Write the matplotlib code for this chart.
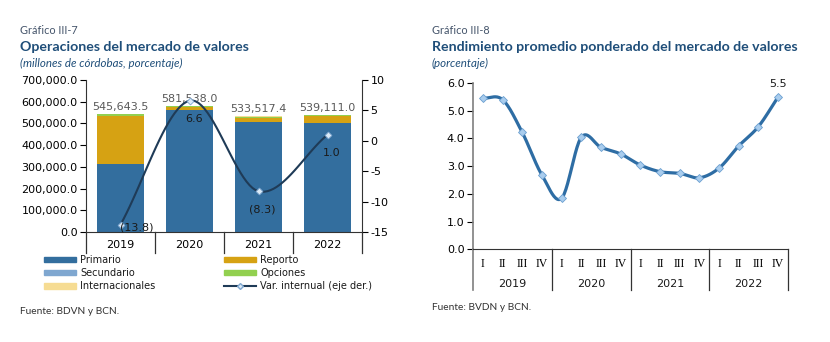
import numpy as np
import matplotlib
matplotlib.use('Agg')
import matplotlib.pyplot as plt
from matplotlib.lines import Line2D
from matplotlib.patches import Patch

# Gráfico III-7
years = ['2019', '2020', '2021', '2022']
primario = [311000.0, 560000.0, 505000.0, 500000.0]
secundario = [1500.0, 1200.0, 1000.0, 1000.0]
reporto = [224000.0, 14000.0, 19000.0, 31000.0]
opciones = [6500.0, 5000.0, 6500.0, 5000.0]
totales = [545643.5, 581538.0, 533517.4, 539111.0]
var_interanual = [-13.8, 6.6, -8.3, 1.0]

# Gráfico III-8
quarters = ['I', 'II', 'III', 'IV'] * 4
rendimiento = [5.45, 5.40, 4.22, 2.68,
               1.84, 4.04, 3.68, 3.44,
               3.04, 2.80, 2.74, 2.58,
               2.93, 3.73, 4.43, 5.50]

C_PRIM = '#336e9e'
C_SEC = '#7fa7d0'
C_REP = '#d6a213'
C_OPC = '#92d050'
C_INT = '#f6dc93'
C_LINE = '#1f3b57'
C_TITLE = '#1f4e79'
C_CURVE = '#2e6da4'
C_MARK = '#a9cdee'


def smooth(x, y, n=24):
    """Catmull-Rom curve through the points (like Excel smoothed lines)."""
    x = np.asarray(x, float)
    y = np.asarray(y, float)
    px = np.concatenate([[2 * x[0] - x[1]], x, [2 * x[-1] - x[-2]]])
    py = np.concatenate([[2 * y[0] - y[1]], y, [2 * y[-1] - y[-2]]])
    t = np.linspace(0, 1, n)
    xs, ys = [], []
    for i in range(1, len(px) - 2):
        for p, out in ((px, xs), (py, ys)):
            p0, p1, p2, p3 = p[i - 1], p[i], p[i + 1], p[i + 2]
            out.extend(0.5 * (2 * p1 + (-p0 + p2) * t
                              + (2 * p0 - 5 * p1 + 4 * p2 - p3) * t ** 2
                              + (-p0 + 3 * p1 - 3 * p2 + p3) * t ** 3))
    return np.array(xs), np.array(ys)


def headers(fig, x, num, title, sub):
    fig.text(x, 1 - 31 / 342, num, fontsize=7.8, color='#44546a',
             family='Lato', va='center')
    fig.text(x, 1 - 47 / 342, title, fontsize=10.2, color=C_TITLE,
             family='Lato', weight='bold', va='center')
    fig.text(x, 1 - 63 / 342, sub, fontsize=8.3, color=C_TITLE,
             family='Lato', style='italic', va='center')


def left_chart(fig):
    ax = fig.add_axes([86 / 830, 1 - 232 / 342, 276 / 830, 152 / 342])
    x = np.arange(len(years))
    w = 0.67
    bottom = np.zeros(len(years))
    for vals, col in ((primario, C_PRIM), (secundario, C_SEC),
                      (reporto, C_REP), (opciones, C_OPC)):
        ax.bar(x, vals, w, bottom=bottom, color=col, edgecolor='none')
        bottom += np.array(vals)
    inter = np.array(totales) - bottom
    ax.bar(x, inter, w, bottom=bottom, color=C_INT, edgecolor='none')

    for i, t in enumerate(totales):
        ax.text(i, t + 9000, '{:,.1f}'.format(t), ha='center', va='bottom',
                fontsize=8, color='#595959')

    ax.set_xlim(-0.5, 3.5)
    ax.set_ylim(0, 700000)
    ax.set_yticks(np.arange(0, 700001, 100000))
    ax.set_yticklabels(['{:,.1f}'.format(v) for v in ax.get_yticks()])
    ax.set_xticks(x)
    ax.set_xticklabels(years)
    ax.tick_params(axis='x', length=0, pad=6, labelsize=8)
    ax.tick_params(axis='y', direction='out', length=4, labelsize=8,
                   pad=2)
    ax.spines['top'].set_visible(False)
    ax.spines['right'].set_visible(False)
    for s in ('left', 'bottom'):
        ax.spines[s].set_color('#333333')
    for b in np.arange(-0.5, 4, 1.0):
        ax.plot([b, b], [0, -21 / 152], color='#333333', lw=0.9,
                transform=ax.get_xaxis_transform(), clip_on=False)

    ax2 = ax.twinx()
    ax2.set_ylim(-15, 10)
    ax2.set_yticks(np.arange(-15, 11, 5))
    ax2.tick_params(axis='y', direction='out', length=4, labelsize=8,
                    pad=2)
    for s in ('top', 'left', 'bottom'):
        ax2.spines[s].set_visible(False)
    ax2.spines['right'].set_color('#333333')
    sx, sy = smooth(x, var_interanual)
    ax2.plot(sx, sy, color=C_LINE, lw=1.5)
    ax2.plot(x, var_interanual, ls='none', marker='D', ms=3.5,
             mfc='#dbeaf7', mec='#7fa7d0', mew=0.6)
    offs = [(0.23, -0.4), (0.06, -3.0), (0.06, -3.0), (0.06, -3.0)]
    for i, v in enumerate(var_interanual):
        lab = '({:.1f})'.format(-v) if v < 0 else '{:.1f}'.format(v)
        ax2.text(i + offs[i][0], v + offs[i][1], lab, ha='center',
                 va='center', fontsize=8, color='#1a1a1a')

    handles = [Patch(color=C_PRIM), Patch(color=C_SEC), Patch(color=C_INT),
               Patch(color=C_REP), Patch(color=C_OPC),
               Line2D([], [], color=C_LINE, lw=1.5, marker='D', ms=3,
                      mfc='#dbeaf7', mec='#7fa7d0')]
    labels = ['Primario', 'Secundario', 'Internacionales', 'Reporto',
              'Opciones', 'Var. internual (eje der.)']
    leg = fig.legend(handles, labels, ncol=2, mode='expand',
                     bbox_to_anchor=(44 / 830, 1 - 255 / 342, 328 / 830,
                                     0.001),
                     loc='upper left', frameon=False, fontsize=7,
                     handlelength=3.3, handleheight=0.45, handletextpad=0.4,
                     labelspacing=0.35, borderpad=0, borderaxespad=0)
    for t in leg.get_texts():
        t.set_color('#1a1a1a')

    fig.text(20 / 830, 1 - 312 / 342, 'Fuente: BDVN y BCN.', fontsize=7.3,
             family='Lato', color='#333333', va='center')


def right_chart(fig):
    ax = fig.add_axes([473 / 830, 1 - 249.3 / 342, 315 / 830, 166.3 / 342])
    x = np.arange(len(rendimiento))
    sx, sy = smooth(x, rendimiento)
    ax.plot(sx, sy, color=C_CURVE, lw=2.3, solid_capstyle='round')
    ax.plot(x, rendimiento, ls='none', marker='D', ms=4, mfc=C_MARK,
            mec='#6b9fd0', mew=0.6)
    ax.text(x[-1], rendimiento[-1] + 0.28, '{:.1f}'.format(rendimiento[-1]),
            ha='center', va='bottom', fontsize=8, color='#1a1a1a')

    ax.set_xlim(-0.5, 15.5)
    ax.set_ylim(0, 6)
    ax.set_yticks(np.arange(0, 6.1, 1.0))
    ax.set_yticklabels(['{:.1f}'.format(v) for v in ax.get_yticks()])
    ax.tick_params(axis='y', direction='out', length=4, labelsize=8,
                   pad=2)
    ax.set_xticks(x)
    ax.set_xticklabels(quarters, family='Liberation Serif', fontsize=8.5)
    ax.tick_params(axis='x', length=0, pad=6)
    ax.spines['top'].set_visible(False)
    ax.spines['right'].set_visible(False)
    ax.spines['left'].set_color('#7f7f7f')
    ax.spines['left'].set_linewidth(1.2)
    ax.spines['bottom'].set_color('#333333')

    trans = ax.get_xaxis_transform()
    for k, b in enumerate(np.arange(-0.5, 16, 4.0)):
        ax.plot([b, b], [0, -41 / 166.3], lw=1.2 if k == 0 else 0.9,
                color='#7f7f7f' if k == 0 else '#333333',
                transform=trans, clip_on=False)
    for k, yr in enumerate(years):
        ax.text(4 * k + 1.5, -35 / 166.3, yr, transform=trans, ha='center',
                va='center', fontsize=8, color='#1a1a1a')

    fig.text(432 / 830, 1 - 308 / 342, 'Fuente: BVDN y BCN.', fontsize=7.3,
             family='Lato', color='#333333', va='center')


def main():
    plt.rcParams['font.family'] = ['DejaVu Sans']
    plt.rcParams['axes.unicode_minus'] = False
    fig = plt.figure(figsize=(8.3, 3.42), dpi=100)

    headers(fig, 20 / 830, 'Gráfico III-7',
            'Operaciones del mercado de valores',
            '(millones de córdobas, porcentaje)')
    headers(fig, 432 / 830, 'Gráfico III-8',
            'Rendimiento promedio ponderado del mercado de valores',
            '(porcentaje)')

    left_chart(fig)
    right_chart(fig)

    fig.savefig('out.png', dpi=100)


if __name__ == '__main__':
    main()
